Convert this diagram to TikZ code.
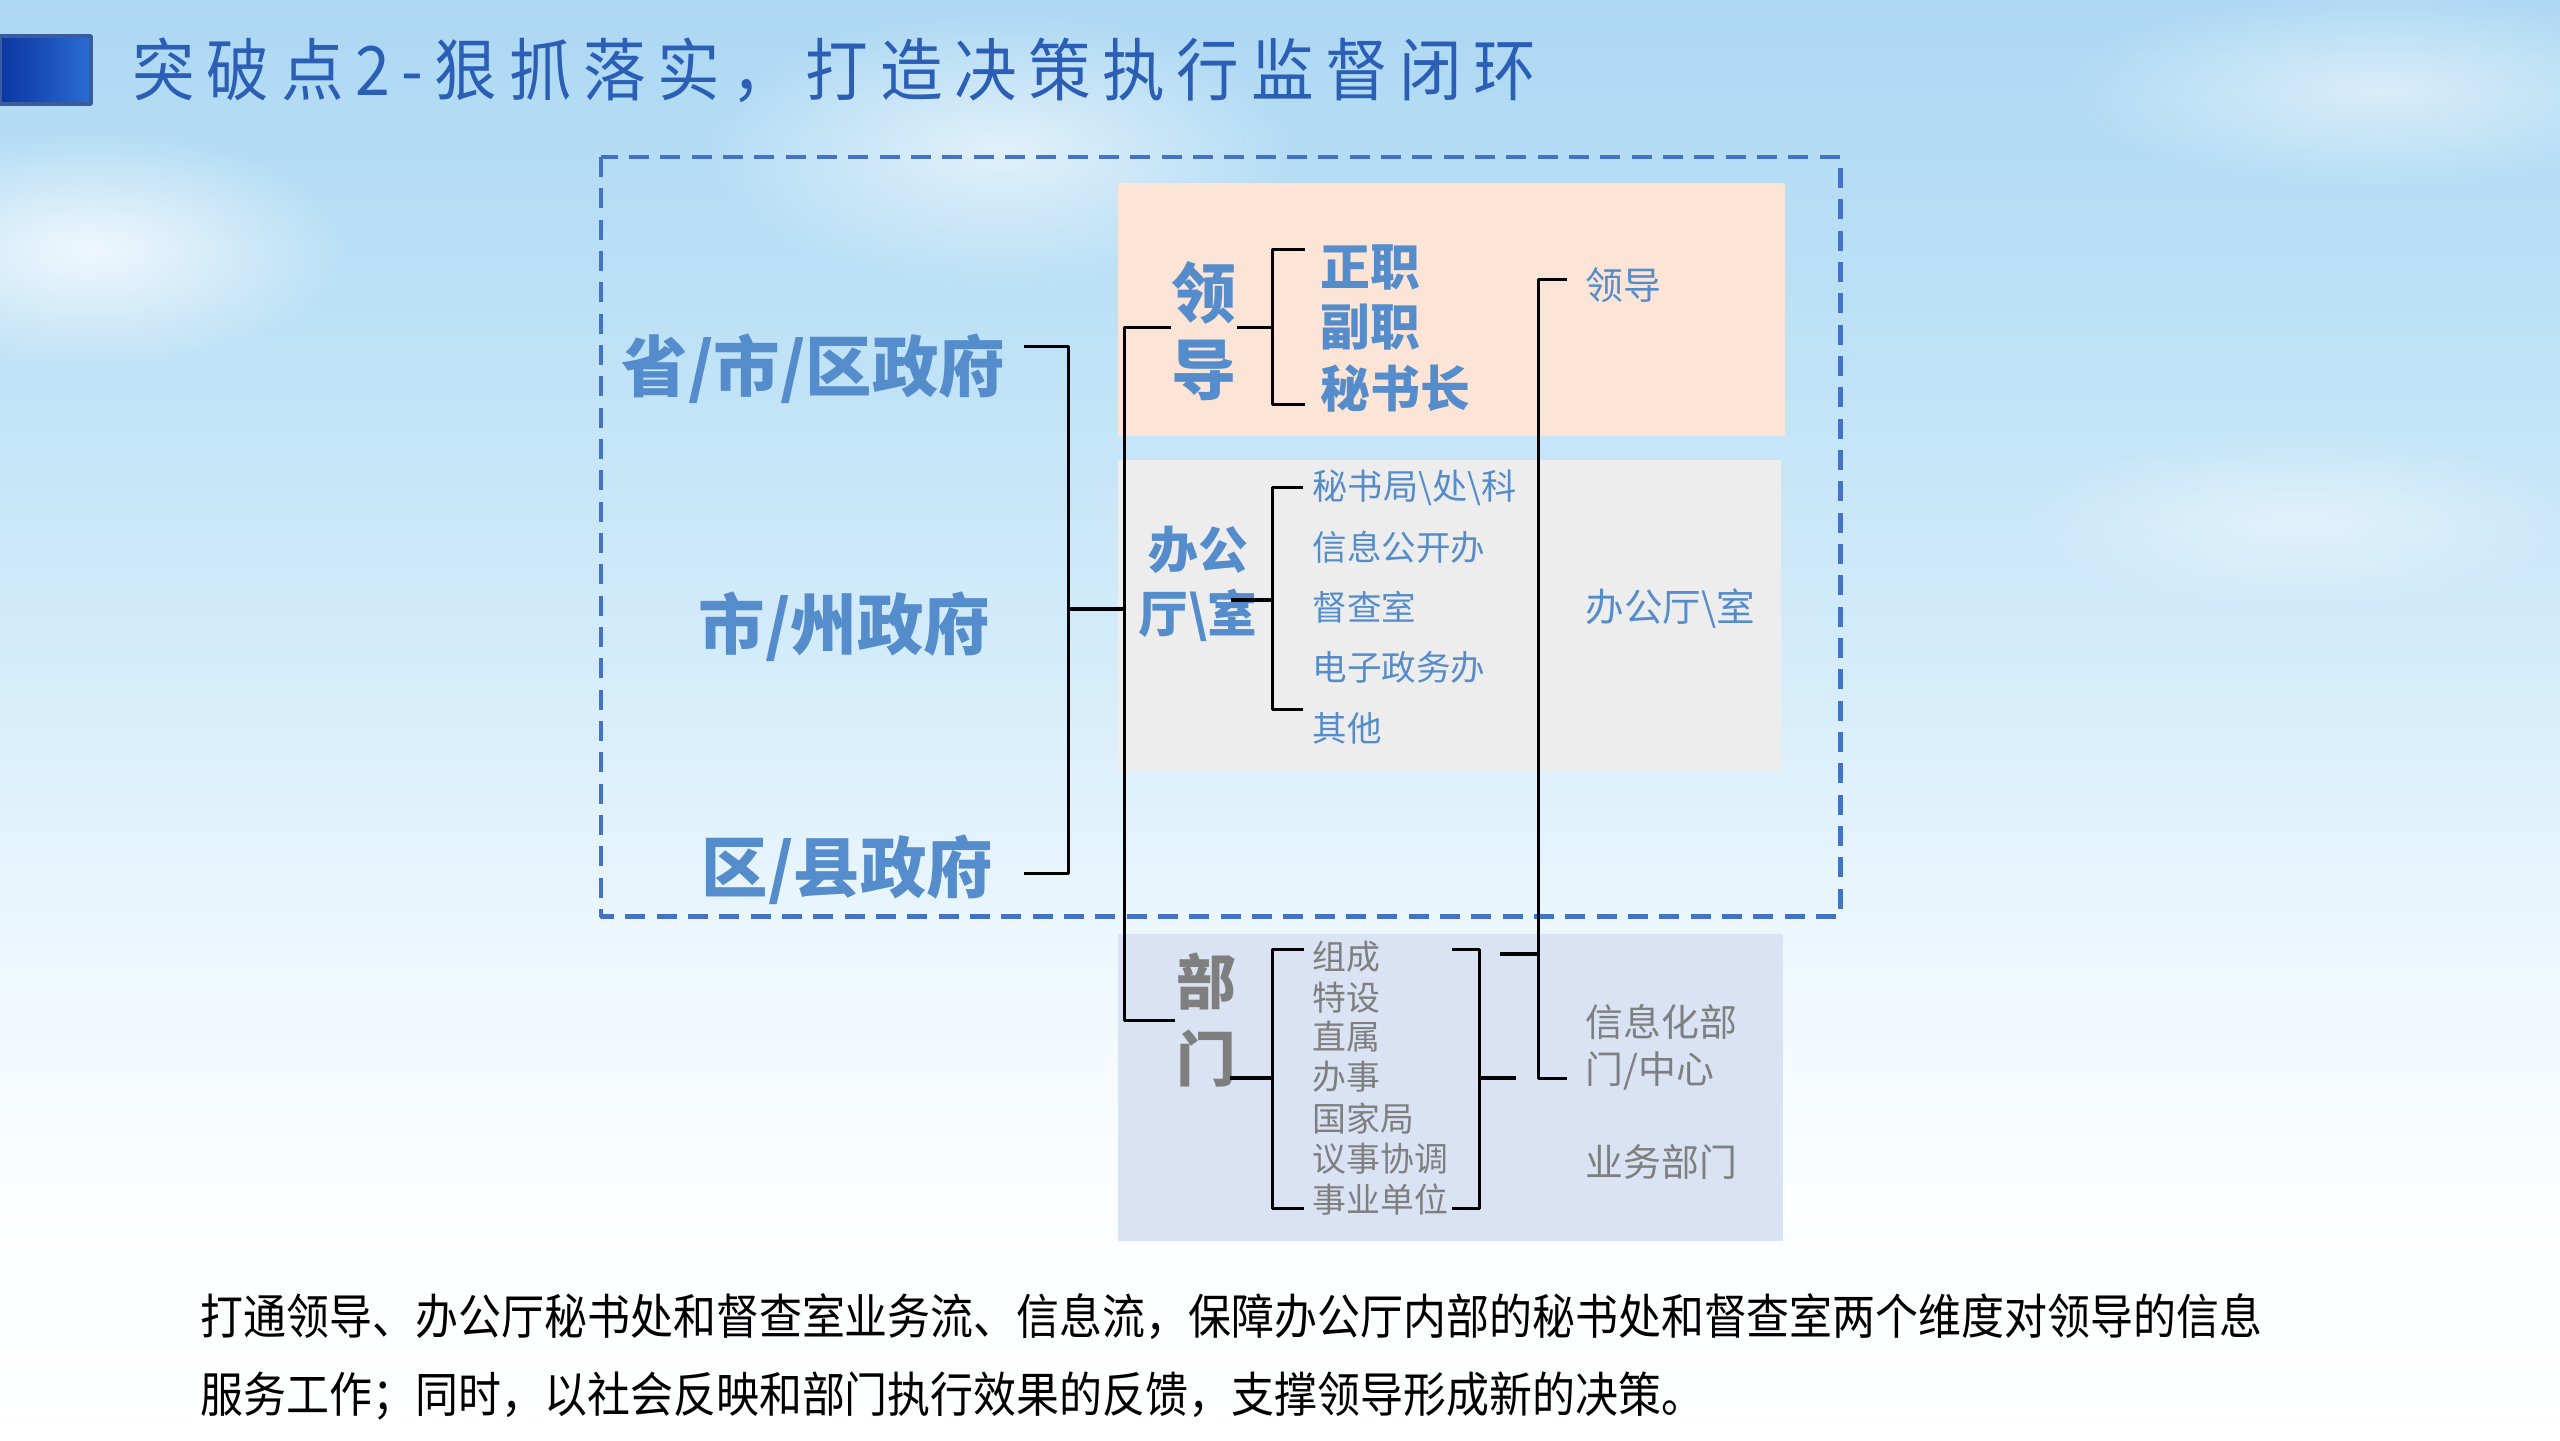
\documentclass[tikz,border=0pt]{standalone}
\usepackage{fontspec}
\setmainfont{Noto Sans CJK SC}
\newfontfamily\titlefam[LetterSpace=17,FakeStretch=0.92]{Noto Sans CJK SC}
\newfontfamily\capfam[FakeStretch=0.892]{Noto Sans CJK SC}
\usetikzlibrary{fadings}
\definecolor{skytop}{HTML}{ADD8F3}
\definecolor{skyhi}{HTML}{BBE0F6}
\definecolor{skymid}{HTML}{D4ECFA}
\definecolor{skylow}{HTML}{EDF7FD}
\definecolor{skyend}{HTML}{FAFDFF}
\definecolor{barleft}{HTML}{0B36A0}
\definecolor{barright}{HTML}{2A6CD2}
\definecolor{barline}{HTML}{3A5C9C}
\definecolor{titleblue}{HTML}{2B5FB6}
\definecolor{framecol}{HTML}{4472C4}
\definecolor{labblue}{HTML}{558CCB}
\definecolor{labgray}{HTML}{7F7F7F}
\definecolor{peach}{HTML}{FCE4D6}
\definecolor{panelgray}{HTML}{EDEDED}
\definecolor{panelblue}{HTML}{DAE3F3}
\pgfdeclareverticalshading{skyshade}{100bp}{color(0bp)=(white); color(25bp)=(white); color(35bp)=(skyend); color(42bp)=(skylow); color(52bp)=(skymid); color(65bp)=(skyhi); color(75bp)=(skytop); color(100bp)=(skytop)}
\tikzfading[name=cloudfade, inner color=transparent!15, outer color=transparent!100]
\tikzset{
  tie/.style={black,line width=0.9pt},
  tiestub/.style={black,line width=1.4pt},
  frame/.style={draw=framecol,line width=1.5pt,dash pattern=on 6bp off 3.4bp},
  cloud/.style={white,path fading=cloudfade},
  bluelbl/.style={inner sep=0pt,text=labblue},
  graylbl/.style={inner sep=0pt,text=labgray},
}
\begin{document}
\begin{tikzpicture}[x=0.3bp,y=-0.3bp,line join=bevel]
\useasboundingbox (0,0) rectangle (2560,1440);
%% sky
\shade[shading=skyshade] (0,0) rectangle (2560,1440);
\fill[cloud,opacity=.9] (90,250) ellipse [x radius=260,y radius=120];
\fill[cloud,opacity=.7] (1000,150) ellipse [x radius=300,y radius=140];
\fill[cloud,opacity=.6] (2380,90) ellipse [x radius=320,y radius=100];
\fill[cloud,opacity=.5] (2300,520) ellipse [x radius=280,y radius=90];
%% title
\shade[left color=barleft,right color=barright,draw=barline,line width=1.2pt] (0,36) rectangle (91,104);
\node (title) at (132,70) [anchor=west,inner sep=0pt,text=titleblue,font=\titlefam\fontsize{20.5pt}{24pt}\selectfont] {突破点2-狠抓落实，打造决策执行监督闭环};
%% frame and panels
\draw[frame] (601,157) rectangle (1840,916);
\fill[peach] (1118,183) rectangle (1785,436);
\fill[panelgray] (1118,460) rectangle (1781,772);
\fill[panelblue] (1118,934) rectangle (1783,1241);
%% government levels
\node (sheng) at (621,369) [bluelbl,anchor=west,font=\bfseries\fontsize{20pt}{23pt}\selectfont] {省/市/区政府};
\node (shi) at (698,627) [bluelbl,anchor=west,font=\bfseries\fontsize{20pt}{23pt}\selectfont] {市/州政府};
\node (qu) at (701,870) [bluelbl,anchor=west,font=\bfseries\fontsize{20pt}{23pt}\selectfont] {区/县政府};
%% branches
\node (lingdao) at (1204,331) [bluelbl,align=center,font=\bfseries\fontsize{19.6pt}{23.2pt}\selectfont] {领\\导};
\node (bangong) at (1198,584) [bluelbl,align=center,font=\bfseries\fontsize{15pt}{19.3pt}\selectfont] {办公\\厅\textbackslash 室};
\node (bumen) at (1206,1020) [graylbl,align=center,font=\bfseries\fontsize{18pt}{23.2pt}\selectfont] {部\\门};
%% leaders
\node (zheng) at (1320,267) [bluelbl,anchor=west,font=\bfseries\fontsize{15pt}{18pt}\selectfont] {正职};
\node (fu) at (1320,327) [bluelbl,anchor=west,font=\bfseries\fontsize{15pt}{18pt}\selectfont] {副职};
\node (mishu) at (1320,388) [bluelbl,anchor=west,font=\bfseries\fontsize{15pt}{18pt}\selectfont] {秘书长};
%% office units
\node (ju) at (1312,488) [bluelbl,anchor=west,font=\fontsize{10.6pt}{13pt}\selectfont] {秘书局\textbackslash 处\textbackslash 科};
\node (xinxi) at (1312,547) [bluelbl,anchor=west,font=\fontsize{10.4pt}{13pt}\selectfont] {信息公开办};
\node (ducha) at (1312,607) [bluelbl,anchor=west,font=\fontsize{10.4pt}{13pt}\selectfont] {督查室};
\node (dianzi) at (1312,667) [bluelbl,anchor=west,font=\fontsize{10.4pt}{13pt}\selectfont] {电子政务办};
\node (qita) at (1312,728) [bluelbl,anchor=west,font=\fontsize{10.4pt}{13pt}\selectfont] {其他};
%% departments
\node (zucheng) at (1312,957) [graylbl,anchor=west,font=\fontsize{10.2pt}{12pt}\selectfont] {组成};
\node (teshe) at (1312,998) [graylbl,anchor=west,font=\fontsize{10.2pt}{12pt}\selectfont] {特设};
\node (zhishu) at (1312,1037) [graylbl,anchor=west,font=\fontsize{10.2pt}{12pt}\selectfont] {直属};
\node (banshi) at (1312,1077) [graylbl,anchor=west,font=\fontsize{10.2pt}{12pt}\selectfont] {办事};
\node (guojia) at (1312,1118) [graylbl,anchor=west,font=\fontsize{10.2pt}{12pt}\selectfont] {国家局};
\node (yishi) at (1312,1159) [graylbl,anchor=west,font=\fontsize{10.2pt}{12pt}\selectfont] {议事协调};
\node (shiye) at (1312,1200) [graylbl,anchor=west,font=\fontsize{10.2pt}{12pt}\selectfont] {事业单位};
%% right column
\node (rlingdao) at (1585,285) [bluelbl,anchor=west,font=\fontsize{11.4pt}{14pt}\selectfont] {领导};
\node (rbangong) at (1585,609) [bluelbl,anchor=west,font=\fontsize{11.6pt}{14pt}\selectfont] {办公厅\textbackslash 室};
\node (rxinxi) at (1585,1047) [graylbl,anchor=west,align=left,font=\fontsize{11.4pt}{14.2pt}\selectfont] {信息化部\\门/中心};
\node (ryewu) at (1585,1162) [graylbl,anchor=west,font=\fontsize{11.4pt}{14pt}\selectfont] {业务部门};
%% junctions
\coordinate (gtop) at (1024,346);
\coordinate (gmid) at (1068,609);
\coordinate (gbot) at (1024,873);
\coordinate (sjoin) at (1124,609);
\coordinate (lmid) at (1272,327);
\coordinate (ltop) at (1305,249);
\coordinate (lbot) at (1305,404);
\coordinate (oleft) at (1231,600);
\coordinate (omid) at (1272,600);
\coordinate (otop) at (1303,487);
\coordinate (obot) at (1303,709);
\coordinate (dleft) at (1230,1078);
\coordinate (dmid) at (1272,1078);
\coordinate (dtop) at (1304,949);
\coordinate (dbot) at (1304,1208);
\coordinate (ctop) at (1452,949);
\coordinate (cmid) at (1479,1078);
\coordinate (cbot) at (1452,1208);
\coordinate (cout) at (1516,1078);
\coordinate (rtop) at (1567,279);
\coordinate (rjoin) at (1538,954);
\coordinate (rin) at (1500,954);
\coordinate (rbot) at (1567,1078);
%% connectors
\draw[tie] (gtop) -| (gmid) |- (gbot);
\draw[tiestub] (gmid) -- (sjoin);
\draw[tie] (lingdao.west |- lmid) -| (sjoin) |- (bumen.west);
\draw[tie] (lingdao.east |- lmid) -- (lmid);
\draw[tie] (ltop) -| (lmid) |- (lbot);
\draw[tie] (otop) -| (omid) |- (obot);
\draw[tiestub] (oleft) -- (omid);
\draw[tie] (dtop) -| (dmid) |- (dbot);
\draw[tiestub] (dleft) -- (dmid);
\draw[tie] (ctop) -| (cmid) |- (cbot);
\draw[tiestub] (cmid) -- (cout);
\draw[tie] (rtop) -| (rjoin) |- (rbot);
\draw[tiestub] (rin) -- (rjoin);
%% caption
\node (caption) at (200,1357) [anchor=west,inner sep=0pt,align=left,font=\capfam\fontsize{14.5pt}{23.5pt}\selectfont] {打通领导、办公厅秘书处和督查室业务流、信息流，保障办公厅内部的秘书处和督查室两个维度对领导的信息\\服务工作；同时，以社会反映和部门执行效果的反馈，支撑领导形成新的决策。};
\end{tikzpicture}
\end{document}
